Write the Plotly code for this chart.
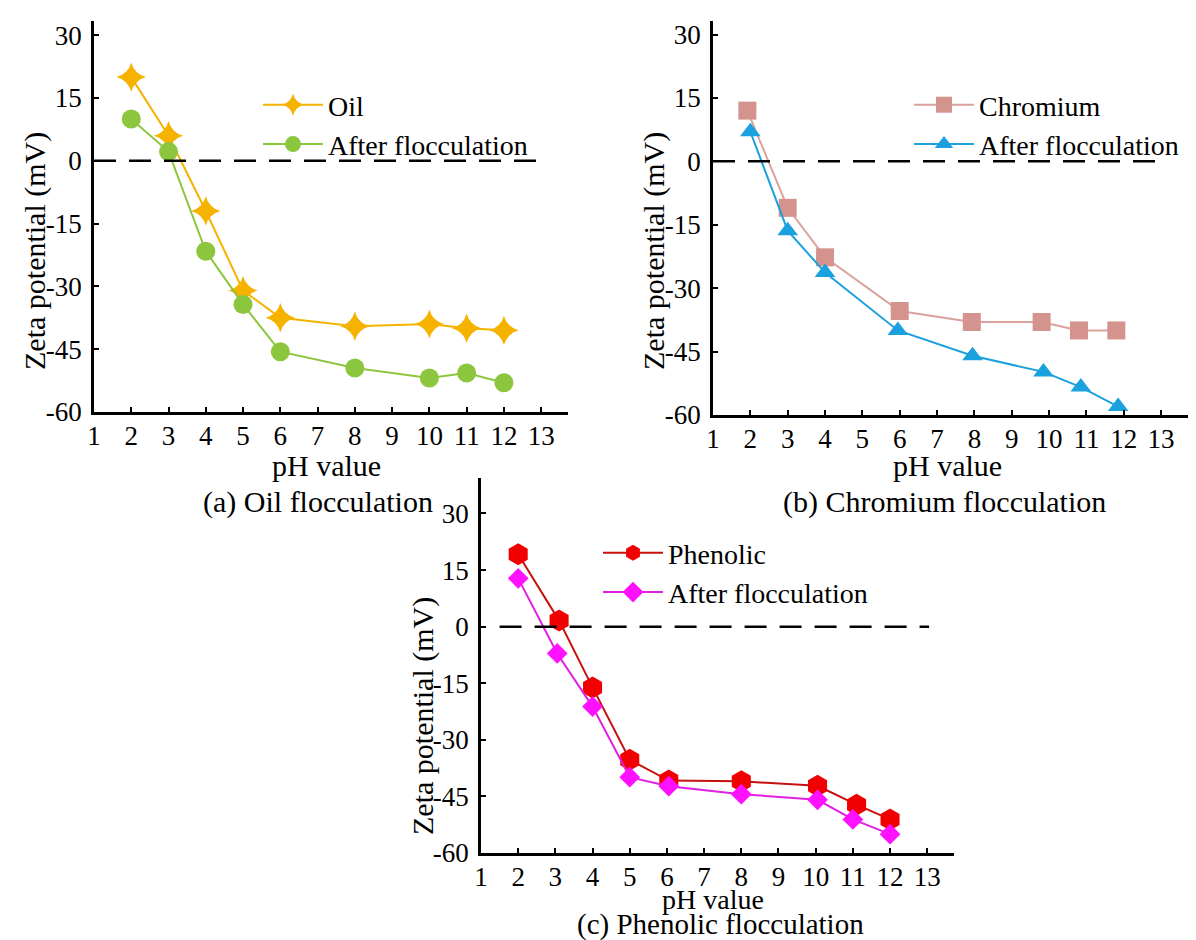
import plotly.graph_objects as go

# ---------------- data ----------------
ph_oil = [2, 3, 4, 5, 6, 8, 10, 11, 12]
oil = [20, 6, -12, -31, -37.5, -39.5, -39, -40, -40.5]
oil_after = [10, 2.2, -21.6, -34.3, -45.6, -49.5, -51.9, -50.7, -53]

ph_cr = [1.92, 3, 4, 6, 7.93, 9.8, 10.8, 11.8]
chromium = [12, -11, -22.7, -35.4, -38, -38, -40, -40]
ph_cr_after = [2, 3, 4, 5.95, 7.95, 9.85, 10.85, 11.85]
cr_after = [7, -16.4, -26.3, -40, -46, -49.8, -53.4, -58]

ph_ph = [2, 3.1, 4, 5, 6.05, 8, 10.05, 11.1, 12]
phenolic = [19.2, 1.6, -16.1, -35.3, -40.8, -41, -42.2, -47.2, -51.1]
ph_ph_after = [2, 3.05, 4, 5, 6.05, 8, 10.05, 11, 12]
ph_after = [12.8, -7.1, -21.2, -39.9, -42.3, -44.4, -45.9, -51.1, -55]

x_ticks = list(range(1, 14))
y_ticks = [-60, -45, -30, -15, 0, 15, 30]

FONT = "Liberation Serif, Times New Roman, serif"
W, H = 1196, 940

fig = go.Figure()

def add(x, y, name, color, lcolor, symbol, size, xa, ya, legend, lw=2):
    fig.add_trace(go.Scatter(
        x=x, y=y, name=name, mode="lines+markers",
        line=dict(color=lcolor, width=lw),
        marker=dict(symbol=symbol, size=size, color=color, line=dict(width=0)),
        xaxis=xa, yaxis=ya, legend=legend))

add(ph_oil, oil, "Oil", "#F5B300", "#F5B300", "star-diamond", 21, "x", "y", "legend")
add(ph_oil, oil_after, "After flocculation", "#8CC63F", "#8CC63F", "circle", 19, "x", "y", "legend")
add(ph_cr, chromium, "Chromium", "#D4938C", "#D9A29C", "square", 18, "x2", "y2", "legend2")
add(ph_cr_after, cr_after, "After flocculation", "#1BA1DE", "#1BA1DE", "triangle-up", 18, "x2", "y2", "legend2")
add(ph_ph, phenolic, "Phenolic", "#F00000", "#C81010", "hexagon", 22, "x3", "y3", "legend3")
add(ph_ph_after, ph_after, "After flocculation", "#FF10FF", "#E020E0", "diamond", 16, "x3", "y3", "legend3")

def px_x(p):
    return p / W

def px_y(p):
    return 1 - p / H

panels = [
    # axis suffix, x domain px, y domain px (top, bottom), x range end, y range top
    ("", (86, 560), (13, 404), 13.72, 33.4),
    ("2", (705, 1180), (13, 407), 13.72, 33.2),
    ("3", (473, 946), (470, 845), 13.72, 39.4),
]

tick_font = dict(family=FONT, size=27, color="black")
for suf, (x0, x1), (yt, yb), xend, ytop in panels:
    fig.update_layout(**{
        "xaxis" + suf: dict(
            domain=[px_x(x0), px_x(x1)], range=[1, xend], anchor="y" + suf,
            tickmode="array", tickvals=x_ticks, ticktext=[str(t) for t in x_ticks],
            ticks="inside", ticklen=5, tickwidth=2, tickcolor="black",
            showline=True, linecolor="black", linewidth=2.5, showgrid=False, zeroline=False,
            tickfont=tick_font, automargin=False, ticklabelstandoff=-2,
        ),
        "yaxis" + suf: dict(
            domain=[px_y(yb), px_y(yt)], range=[-60, ytop], anchor="x" + suf,
            tickmode="array", tickvals=y_ticks, ticktext=[str(t) for t in y_ticks],
            ticks="inside", ticklen=5, tickwidth=2, tickcolor="black",
            showline=True, linecolor="black", linewidth=2.5, showgrid=False, zeroline=False,
            tickfont=tick_font, automargin=False, ticklabelstandoff=4,
        ),
    })

# zero reference lines
shapes = []
for suf, xs in [("", 1), ("2", 1), ("3", 1.5)]:
    shapes.append(dict(type="line", xref="x" + suf, yref="y" + suf, x0=xs, x1=13.05, y0=0, y1=0,
                       line=dict(color="black", width=2.5, dash="22px,13px")))

texts = [
    # text, x px, y px, angle, size
    ("pH value", 318, 457, 0, 30),
    ("pH value", 939, 457, 0, 30),
    ("pH value", 705, 891, 0, 28),
    ("Zeta potential (mV)", 27, 243, -90, 30),
    ("Zeta potential (mV)", 646, 243, -90, 30),
    ("Zeta potential (mV)", 415, 708, -90, 30),
    ("(a) Oil flocculation", 310, 494, 0, 30),
    ("(b) Chromium flocculation", 936, 494, 0, 30),
    ("(c) Phenolic flocculation", 712, 916, 0, 29),
]
annotations = [dict(text=t, x=px_x(x), y=px_y(y), xref="paper", yref="paper", textangle=a,
                    showarrow=False, font=dict(family=FONT, size=s, color="black"),
                    xanchor="center", yanchor="middle") for t, x, y, a, s in texts]

legend_font = dict(family=FONT, size=28, color="black")
leg_common = dict(font=legend_font, bgcolor="rgba(0,0,0,0)", tracegroupgap=0,
                  xanchor="left", yanchor="top", itemwidth=60)

fig.update_layout(
    width=W, height=H,
    margin=dict(l=0, r=0, t=0, b=0),
    paper_bgcolor="white", plot_bgcolor="white",
    font=dict(family=FONT, size=28, color="black"),
    shapes=shapes, annotations=annotations,
    legend=dict(x=px_x(250), y=px_y(72), **leg_common),
    legend2=dict(x=px_x(901), y=px_y(72), **leg_common),
    legend3=dict(x=px_x(590), y=px_y(520), **leg_common),
)

fig.write_html("out.html")
